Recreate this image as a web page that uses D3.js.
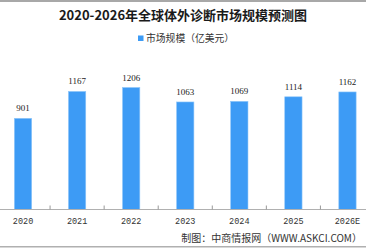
<!DOCTYPE html>
<html>
<head>
<meta charset="utf-8">
<script src="https://cdn.jsdelivr.net/npm/d3@7"></script>
<style>
  html, body { margin: 0; padding: 0; background: #fff; }
  svg { display: block; }
</style>
</head>
<body>
<svg id="chart" width="366" height="248"></svg>
<script>
// chart data
const years  = [ '2020', '2021', '2022', '2023', '2024', '2025', '2026E' ];
const values = [ 901, 1167, 1206, 1063, 1069, 1114, 1162 ];
const titleText  = '2020-2026年全球体外诊断市场规模预测图';
const legendText = '市场规模（亿美元）';
const sourceText = '制图：中商情报网（WWW.ASKCI.COM）';

const W = 366, H = 248;
const baseY = 209.5;
const svg = d3.select( '#chart' );

// frame lines top and bottom
svg.append( 'rect' ).attr( 'x', 0 ).attr( 'y', 0 ).attr( 'width', W ).attr( 'height', 2 ).attr( 'fill', '#a8a8a8' );
svg.append( 'rect' ).attr( 'x', 0 ).attr( 'y', 246 ).attr( 'width', W ).attr( 'height', 1.5 ).attr( 'fill', '#b0b0b0' );

// title
svg.append( 'text' )
  .attr( 'x', 183 ).attr( 'y', 20 )
  .attr( 'text-anchor', 'middle' )
  .attr( 'font-family', '"Noto Sans CJK SC", sans-serif' )
  .attr( 'font-weight', 'bold' )
  .attr( 'font-size', 13 )
  .attr( 'fill', '#1a1a1a' )
  .text( titleText );

// legend
svg.append( 'rect' ).attr( 'x', 138 ).attr( 'y', 35.5 ).attr( 'width', 5.5 ).attr( 'height', 5.5 ).attr( 'fill', '#3d9bf5' );
svg.append( 'text' )
  .attr( 'x', 146 ).attr( 'y', 42 )
  .attr( 'font-family', '"Noto Sans CJK SC", sans-serif' )
  .attr( 'font-size', 9.8 )
  .attr( 'fill', '#333' )
  .text( legendText );

// scales
const x = d3.scaleBand( ).domain( years ).range( [ -4, 374.5 ] ).paddingInner( 0.68 ).paddingOuter( 0.34 );
const y = d3.scaleLinear( ).domain( [ 0, 1400 ] ).range( [ baseY, baseY - 1400 * 122 / 1206 ] );

// bars
svg.append( 'g' ).selectAll( 'rect' )
  .data( values )
  .join( 'rect' )
  .attr( 'x', ( d, i ) => x( years[i] ) )
  .attr( 'y', d => y( d ) )
  .attr( 'width', x.bandwidth( ) )
  .attr( 'height', d => baseY - y( d ) )
  .attr( 'fill', '#3d9bf5' )
  .attr( 'stroke', '#8fc6f9' )
  .attr( 'stroke-width', 0.6 );

// value labels
svg.append( 'g' ).selectAll( 'text' )
  .data( values )
  .join( 'text' )
  .attr( 'x', ( d, i ) => x( years[i] ) + x.bandwidth( ) / 2 )
  .attr( 'y', d => y( d ) - 7 )
  .attr( 'text-anchor', 'middle' )
  .attr( 'font-family', '"Liberation Serif", serif' )
  .attr( 'font-size', 9 )
  .attr( 'fill', '#222' )
  .text( d => d );

// x axis
const xAxis = d3.axisBottom( x ).tickSize( 0 ).tickPadding( 0 );
const gx = svg.append( 'g' ).attr( 'transform', `translate(0,${baseY})` ).call( xAxis );
gx.select( '.domain' ).remove( );
gx.selectAll( 'text' )
  .attr( 'dy', 14.5 )
  .attr( 'font-family', '"Liberation Mono", monospace' )
  .attr( 'font-size', 8.5 )
  .attr( 'fill', '#333' );
svg.append( 'line' ).attr( 'x1', 0 ).attr( 'x2', W ).attr( 'y1', baseY ).attr( 'y2', baseY )
  .attr( 'stroke', '#b0b0b0' ).attr( 'stroke-width', 1 );

// tick marks between categories
svg.append( 'g' ).selectAll( 'line' )
  .data( years.slice( 1 ) )
  .join( 'line' )
  .attr( 'x1', d => x( d ) - x.step( ) * x.paddingInner( ) / 2 )
  .attr( 'x2', d => x( d ) - x.step( ) * x.paddingInner( ) / 2 )
  .attr( 'y1', baseY - 4 ).attr( 'y2', baseY )
  .attr( 'stroke', '#999' ).attr( 'stroke-width', 1 );

// source note
svg.append( 'text' )
  .attr( 'x', 362 ).attr( 'y', 242 )
  .attr( 'text-anchor', 'end' )
  .attr( 'font-family', '"Noto Sans CJK SC", sans-serif' )
  .attr( 'font-size', 10 )
  .attr( 'fill', '#333' )
  .text( sourceText );
</script>
</body>
</html>
